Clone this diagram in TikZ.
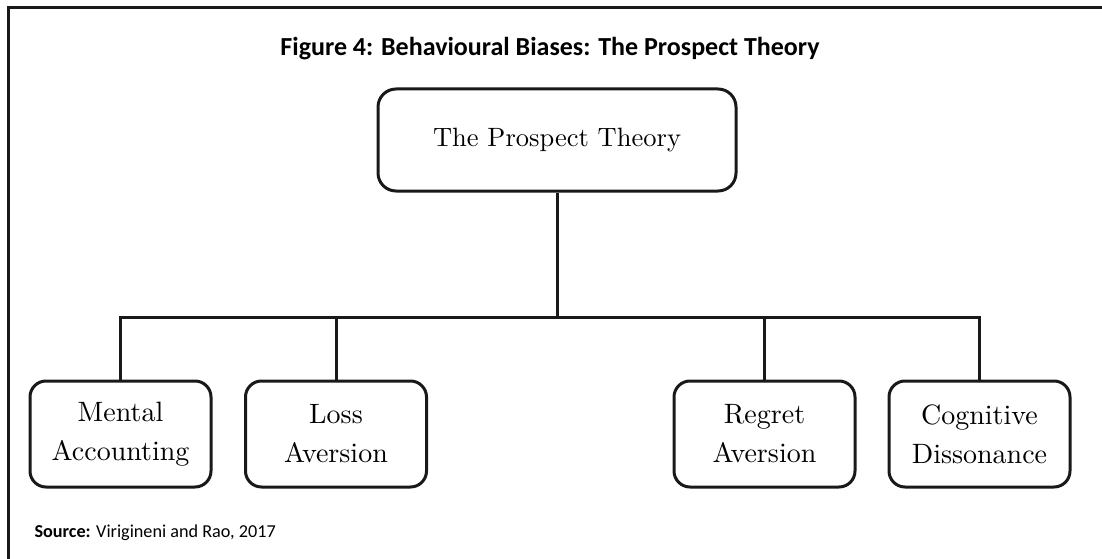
\documentclass[tikz,border=0pt]{standalone}
\usepackage{fontspec}
\newfontfamily\labelfont{Carlito}
\newfontfamily\boxfont{lmroman10-regular.otf}
\tikzset{
  x=1pt, y=-1pt,
  frameline/.style={line width=3pt, draw=black!90},
  link/.style={line width=3pt, draw=black!90},
  rootbox/.style={draw=black!90, line width=3pt, rounded corners=18pt,
    minimum width=358pt, minimum height=102pt, inner sep=0pt,
    align=center, font=\boxfont\fontsize{26.5}{39}\selectfont},
  leafbox/.style={draw=black!90, line width=3pt, rounded corners=16pt,
    minimum width=181pt, minimum height=106pt, inner sep=0pt,
    align=center, font=\boxfont\fontsize{28}{39}\selectfont},
}
\begin{document}
\begin{tikzpicture}
\useasboundingbox (0,0) rectangle (1102,559);
% frame
\draw[frameline] (8.5,559) -- (8.5,7.5) -- (1102,7.5);
% title
\node (title) at (550,49) {\labelfont\bfseries\fontsize{26}{30}\selectfont Figure 4: Behavioural Biases: The Prospect Theory};
% root
\node[rootbox] (root) at (557,140) {The Prospect Theory};
% leaves
\node[leafbox] (mental) at (120.5,434) {Mental\\Accounting};
\node[leafbox] (loss) at (336,434) {Loss\\Aversion};
\node[leafbox] (regret) at (764.5,434) {Regret\\Aversion};
\node[leafbox] (cog) at (979.5,434) {Cognitive\\Dissonance};
% bus
\coordinate (bus) at (557,317);
\draw[link] (root.south) -- (bus);
\draw[link] (mental.north) |- (bus) -| (cog.north);
\draw[link] (loss.north) -- (loss.north |- bus);
\draw[link] (regret.north) -- (regret.north |- bus);
% source
\node[anchor=west] (src) at (31,533) {\labelfont\fontsize{18.2}{22}\selectfont\textbf{Source:} Virigineni and Rao, 2017};
\end{tikzpicture}
\end{document}
